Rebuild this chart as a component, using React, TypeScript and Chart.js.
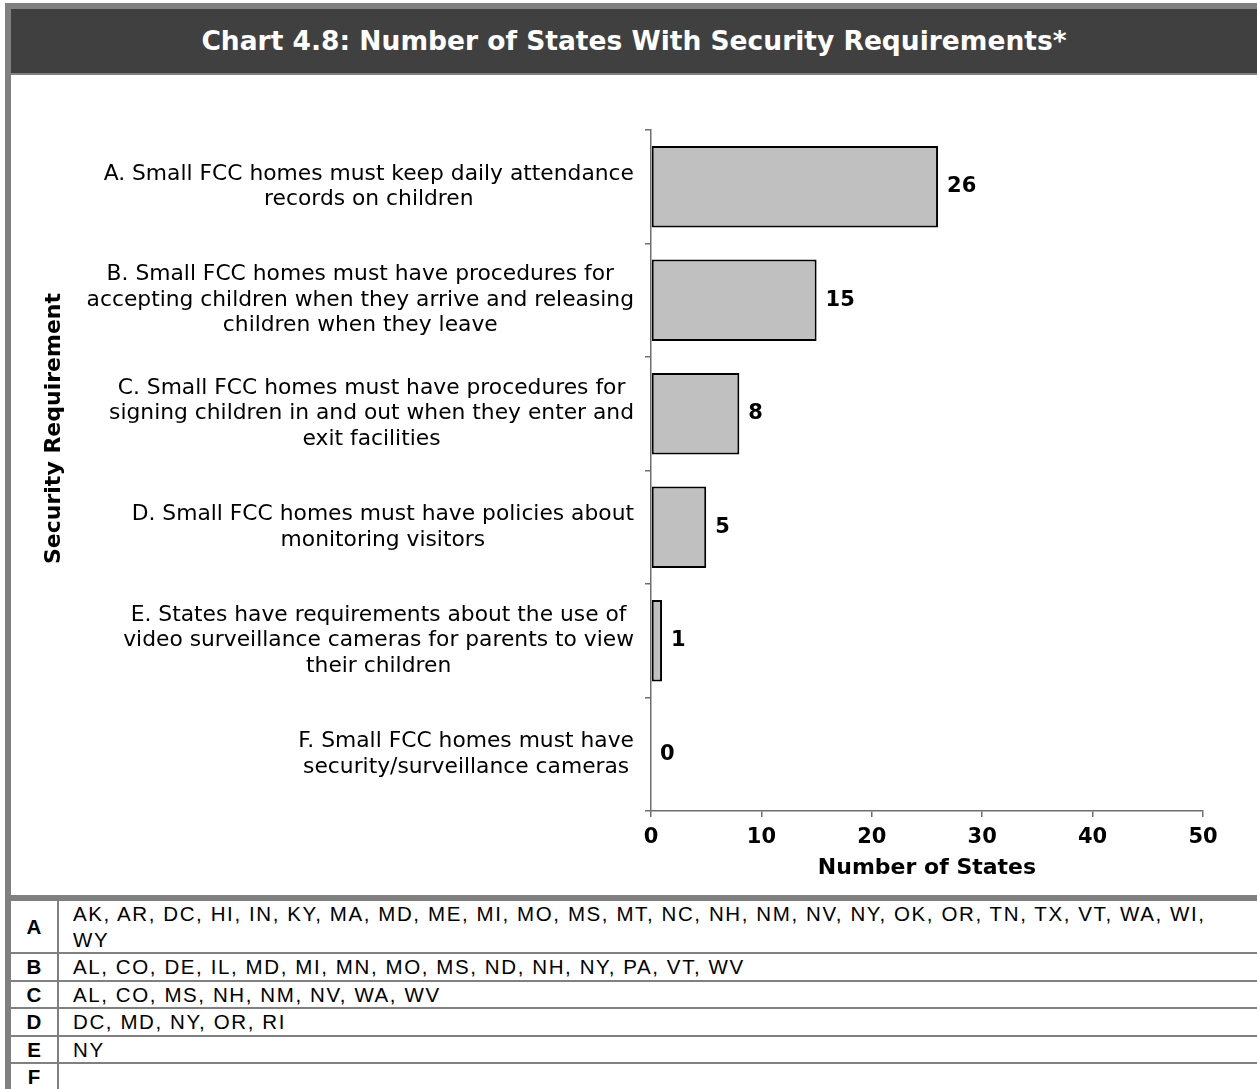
import React, { useEffect, useRef } from 'react';
import { Chart, registerables } from 'chart.js';

Chart.register(...registerables);

const CHART_TITLE = 'Chart 4.8: Number of States With Security Requirements*';

const categoryLines: string[][] = [
  ['A. Small FCC homes must keep daily attendance', 'records on children'],
  ['B. Small FCC homes must have procedures for', 'accepting children when they arrive and releasing', 'children when they leave'],
  ['C. Small FCC homes must have procedures for', 'signing children in and out when they enter and', 'exit facilities'],
  ['D. Small FCC homes must have policies about', 'monitoring visitors'],
  ['E. States have requirements about the use of', 'video surveillance cameras for parents to view', 'their children'],
  ['F. Small FCC homes must have', 'security/surveillance cameras'],
];

const stateCounts: number[] = [26, 15, 8, 5, 1, 0];

const xMin = 0;
const xMax = 50;
const xStep = 10;
const xAxisTitle = 'Number of States';
const yAxisTitle = 'Security Requirement';

const tableLetters: string[] = ['A', 'B', 'C', 'D', 'E', 'F'];
const tableStates: string[] = [
  'AK, AR, DC, HI, IN, KY, MA, MD, ME, MI, MO, MS, MT, NC, NH, NM, NV, NY, OK, OR, TN, TX, VT, WA, WI, WY',
  'AL, CO, DE, IL, MD, MI, MN, MO, MS, ND, NH, NY, PA, VT, WV',
  'AL, CO, MS, NH, NM, NV, WA, WV',
  'DC, MD, NY, OR, RI',
  'NY',
  '',
];

const GRAY = '#808080';
const AXIS = '#6e6e6e';
const FONT = '"DejaVu Sans", Verdana, sans-serif';

const labelPlugin = {
  id: 'customLabels',
  afterDraw(chart: any) {
    const ctx = chart.ctx as CanvasRenderingContext2D;
    const xs = chart.scales.x;
    const ys = chart.scales.y;
    ctx.save();
    ctx.fillStyle = '#000';
    // category labels: block right-aligned, lines centred
    ctx.font = `21.8px ${FONT}`;
    ctx.textBaseline = 'middle';
    ctx.textAlign = 'center';
    const lh = 25.5;
    categoryLines.forEach((lines, i) => {
      const cy = ys.getPixelForValue(i);
      const maxW = Math.max(...lines.map((l) => ctx.measureText(l).width));
      const cx = xs.left - 17 - maxW / 2;
      lines.forEach((l, j) => {
        ctx.fillText(l, cx, cy + (j - (lines.length - 1) / 2) * lh);
      });
    });
    // value labels
    ctx.font = `bold 21px ${FONT}`;
    ctx.textAlign = 'left';
    const meta = chart.getDatasetMeta(0);
    meta.data.forEach((bar: any, i: number) => {
      ctx.fillText(String(stateCounts[i]), bar.x + 9, bar.y);
    });
    // y axis title
    ctx.font = `bold 22px ${FONT}`;
    ctx.textAlign = 'center';
    ctx.translate(43, (ys.top + ys.bottom) / 2 - 42);
    ctx.rotate(-Math.PI / 2);
    ctx.fillText(yAxisTitle, 0, 0);
    ctx.restore();
  },
};

function BarChart() {
  const ref = useRef<HTMLCanvasElement | null>(null);
  useEffect(() => {
    if (!ref.current) return;
    const chart = new Chart(ref.current, {
      type: 'bar',
      data: {
        labels: categoryLines.map((l) => l.join(' ')),
        datasets: [
          {
            data: stateCounts,
            backgroundColor: '#C0C0C0',
            borderColor: '#000',
            borderWidth: 2,
            borderSkipped: false,
            barPercentage: 0.72,
            categoryPercentage: 1,
          },
        ],
      },
      options: {
        indexAxis: 'y',
        responsive: false,
        animation: false,
        devicePixelRatio: 1,
        layout: { padding: { top: 55, right: 54, bottom: 0, left: 0 } },
        plugins: {
          legend: { display: false },
          tooltip: { enabled: false },
          title: { display: false },
        },
        scales: {
          x: {
            type: 'linear',
            min: xMin,
            max: xMax,
            afterFit: (s: any) => {
              s.height = 84;
            },
            ticks: {
              stepSize: xStep,
              color: '#000',
              font: { family: FONT, size: 21, weight: 'bold' },
              padding: 8,
              maxRotation: 0,
            },
            grid: { drawOnChartArea: false, drawTicks: true, tickLength: 6, color: AXIS, lineWidth: 1.5 },
            border: { color: AXIS, width: 1.5 },
            title: {
              display: true,
              text: xAxisTitle,
              color: '#000',
              font: { family: FONT, size: 22, weight: 'bold' },
              padding: { top: 0, bottom: 14 },
            },
          },
          y: {
            type: 'category',
            afterFit: (s: any) => {
              s.width = 640;
            },
            ticks: { display: false },
            grid: { drawOnChartArea: false, drawTicks: true, tickLength: 6, color: AXIS, lineWidth: 1.5, offset: true },
            border: { color: AXIS, width: 1.5 },
          },
        },
      },
      plugins: [labelPlugin],
    } as any);
    return () => chart.destroy();
  }, []);
  return <canvas ref={ref} width={1246} height={820} style={{ width: 1246, height: 820, display: 'block' }} />;
}

export default function App() {
  return (
    <div style={{ position: 'absolute', left: 0, top: 0, width: 1257, height: 1089, overflow: 'hidden', background: '#fff' }}>
      <div style={{ position: 'absolute', left: 5, top: 3, width: 1252, height: 6, background: GRAY }} />
      <div style={{ position: 'absolute', left: 5, top: 3, width: 6, height: 1086, background: GRAY }} />
      <div
        style={{
          position: 'absolute',
          left: 11,
          top: 9,
          width: 1246,
          height: 64,
          background: '#404040',
          color: '#fff',
          fontFamily: FONT,
          fontWeight: 'bold',
          fontSize: 26.5,
          lineHeight: '64px',
          textAlign: 'center',
        }}
      >
        {CHART_TITLE}
      </div>
      <div style={{ position: 'absolute', left: 11, top: 73, width: 1246, height: 2, background: GRAY }} />
      <div style={{ position: 'absolute', left: 11, top: 75 }}>
        <BarChart />
      </div>
      <div style={{ position: 'absolute', left: 11, top: 895, width: 1246, height: 6, background: GRAY }} />
      <div style={{ position: 'absolute', left: 11, top: 901, width: 1246, fontFamily: '"Liberation Sans", Arial, sans-serif', fontSize: 20.5, color: '#000' }}>
        {tableLetters.map((letter, i) => (
          <div
            key={letter}
            style={{
              display: 'flex',
              borderBottom: i < tableLetters.length - 1 ? `2px solid ${GRAY}` : 'none',
              lineHeight: '25.5px',
              minHeight: 25.5,
            }}
          >
            <div
              style={{
                width: 46,
                flex: '0 0 46px',
                borderRight: `2px solid ${GRAY}`,
                fontWeight: 'bold',
                textAlign: 'center',
                display: 'flex',
                alignItems: 'center',
                justifyContent: 'center',
              }}
            >
              {letter}
            </div>
            <div style={{ flex: 1, paddingLeft: 14, paddingRight: 22, letterSpacing: '1.6px' }}>{tableStates[i]}</div>
          </div>
        ))}
      </div>
    </div>
  );
}
